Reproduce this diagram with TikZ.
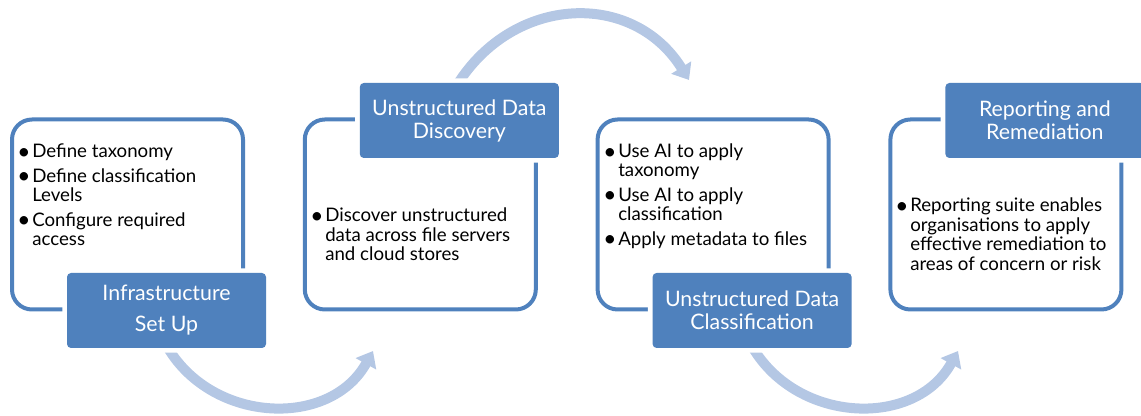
\documentclass[tikz,border=0pt]{standalone}
\usepackage{fontspec}
\setmainfont{Lato}
\usetikzlibrary{arrows.meta, backgrounds}

\definecolor{stageblue}{RGB}{79,129,189}
\definecolor{flowblue}{RGB}{180,199,228}

\newcommand{\stagebullet}{\makebox[9pt][l]{\makebox[5.5pt][c]{\raisebox{-0.8pt}{\fontsize{17}{17}\selectfont\textbullet}}}}

\tikzset{
  stagebox/.style={draw=stageblue, line width=3pt, rounded corners=15pt,
    minimum width=173.25pt, minimum height=142.5pt, inner sep=0pt},
  stagetitle/.style={fill=stageblue, rounded corners=3pt, text=white,
    preaction={draw=white, line width=7pt},
    minimum width=149.25pt, minimum height=56.25pt, align=center,
    font=\fontsize{16}{17.25}\selectfont},
  stagetext/.style={anchor=base west, inner sep=0pt,
    font=\fontsize{14}{14.25}\selectfont},
  flowarrow/.style={draw=flowblue, line width=7.5pt,
    -{Triangle[width=17pt,length=11pt]}}
}

\begin{document}
\begin{tikzpicture}[x=0.75pt, y=0.75pt]
  \useasboundingbox (0,0) rectangle (1141,416);

  % Rahmen
  \node[stagebox] (frame1) at (127.5,201.5) {};
  \node[stagebox] (frame2) at (420.3,201.5) {};
  \node[stagebox] (frame3) at (713.1,201.5) {};
  \node[stagebox] (frame4) at (1005.9,201.5) {};

  % Titel
  \node[stagetitle] (title1) at (166.5,105.5) {Infrastructure\\[6pt]Set Up};
  \node[stagetitle] (title2) at (459.3,295.5) {Unstructured Data\\Discovery};
  \node[stagetitle] (title3) at (752.1,105.5) {Unstructured Data\\Classification};
  \node[stagetitle] (title4) at (1044.9,295.5) {Reporting and\\Remediation};

  % Punkte
  \node[stagetext] (text1) at (20,258) {%
    \begin{tabular}[t]{@{}l@{}l@{}}
      \stagebullet & Define taxonomy\\[3.75pt]
      \stagebullet & Define classification\\
                   & Levels\\[3.75pt]
      \stagebullet & Configure required\\
                   & access
    \end{tabular}};
  \node[stagetext] (text2) at (313,194) {%
    \begin{tabular}[t]{@{}l@{}l@{}}
      \stagebullet & Discover unstructured\\
                   & data across file servers\\
                   & and cloud stores
    \end{tabular}};
  \node[stagetext] (text3) at (606,258) {%
    \begin{tabular}[t]{@{}l@{}l@{}}
      \stagebullet & Use AI to apply\\
                   & taxonomy\\[3.75pt]
      \stagebullet & Use AI to apply\\
                   & classification\\[3.75pt]
      \stagebullet & Apply metadata to files
    \end{tabular}};
  \node[stagetext] (text4) at (898,204) {%
    \begin{tabular}[t]{@{}l@{}l@{}}
      \stagebullet & Reporting suite enables\\
                   & organisations to apply\\
                   & effective remediation to\\
                   & areas of concern or risk
    \end{tabular}};

  % Pfeile
  \coordinate (a1s) at (168,68);
  \coordinate (a1e) at (373,65);
  \coordinate (a2s) at (457,331);
  \coordinate (a2e) at (689,336);
  \coordinate (a3s) at (753,68);
  \coordinate (a3e) at (958,65);

  \begin{scope}[on background layer]
    \draw[flowarrow] (a1s) to[out=-59, in=-119, looseness=1.1] (a1e);
    \draw[flowarrow] (a2s) to[out=58, in=122, looseness=1.17] (a2e);
    \draw[flowarrow] (a3s) to[out=-59, in=-119, looseness=1.1] (a3e);
  \end{scope}
\end{tikzpicture}
\end{document}
